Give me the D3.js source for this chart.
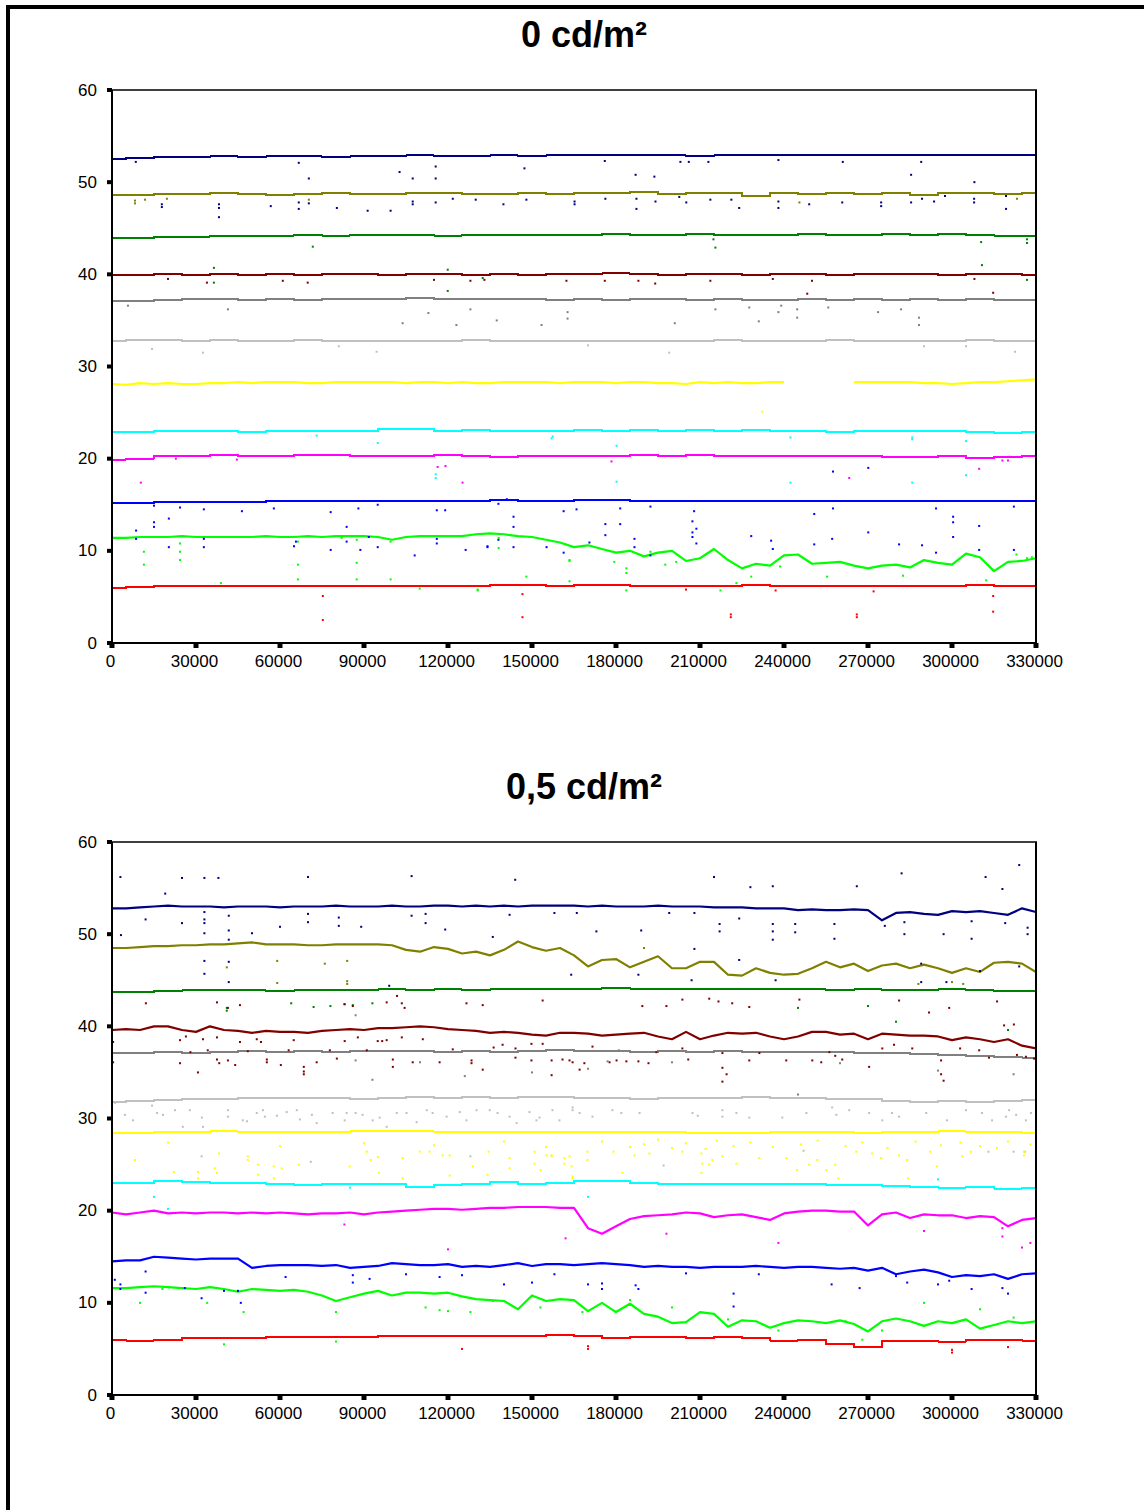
<!DOCTYPE html>
<html><head><meta charset="utf-8">
<script src="https://cdn.jsdelivr.net/npm/d3@7"></script>
<style>body{margin:0;background:#fff}svg{display:block}</style>
</head><body>
<script>
// ---------- categories / ticks ----------
const xTicks = [0,30000,60000,90000,120000,150000,180000,210000,240000,270000,300000,330000];
const yTicks = [0,10,20,30,40,50,60];
const titles = ["0 cd/m²", "0,5 cd/m²"];
const colors = ["#000080","#808000","#008000","#800000","#808080","#C0C0C0","#FFFF00","#00FFFF","#FF00FF","#0000FF","#00FF00","#FF0000"];

// ---------- panel 1 series (0 cd/m²) ----------
const navy1 = [52.5,52.6,52.7,52.7,52.8,52.7,52.8,52.8,52.7,52.8,
52.8,52.9,52.8,52.8,52.9,52.8,52.9,52.9,53.0,52.9,
52.9,52.8,52.9,52.9,52.9,52.9,52.9,53.0,52.9,53.0,
53.0,52.9,53.0,53.0];
const olive1 = [48.6,48.6,48.7,48.7,48.8,48.7,48.6,48.7,48.8,48.7,
48.7,48.8,48.8,48.7,48.7,48.8,48.7,48.8,48.8,48.9,
48.7,48.8,48.8,48.5,48.8,48.7,48.8,48.7,48.8,48.6,
48.8,48.8,48.7,48.8];
const green1 = [43.9,43.9,44.1,44.1,44.2,44.2,44.2,44.3,44.2,44.3,
44.3,44.3,44.2,44.3,44.3,44.3,44.3,44.3,44.4,44.3,
44.3,44.4,44.3,44.3,44.3,44.4,44.3,44.3,44.4,44.3,
44.4,44.3,44.2,44.2];
const maroon1 = [39.9,39.9,40.0,39.9,40.0,39.9,40.0,39.9,40.0,40.0,
39.9,40.0,40.0,39.9,40.0,39.9,40.0,40.0,40.1,40.0,
39.9,40.0,40.0,39.9,40.0,40.0,39.9,40.0,40.0,40.0,
39.9,40.0,40.0,39.9];
const gray1 = [37.1,37.1,37.2,37.3,37.3,37.2,37.3,37.2,37.3,37.3,
37.3,37.4,37.3,37.3,37.3,37.3,37.2,37.3,37.2,37.3,
37.3,37.2,37.3,37.2,37.2,37.3,37.2,37.3,37.2,37.3,
37.2,37.3,37.2,37.2];
const silver1 = [32.8,32.9,32.9,32.8,32.9,32.8,32.8,32.9,32.8,32.8,
32.8,32.8,32.8,32.9,32.8,32.8,32.8,32.8,32.8,32.8,
32.8,32.8,32.9,32.8,32.8,32.8,32.9,32.8,32.8,32.8,
32.8,32.9,32.8,32.8];
const yellow1 = [28.1,28.0,28.2,28.1,28.2,28.1,28.1,28.2,28.2,28.3,
28.2,28.3,28.3,28.3,28.2,28.2,28.3,28.3,28.3,28.3,
28.3,28.2,28.3,28.3,28.2,28.3,28.2,28.2,28.3,28.3,
28.3,28.3,28.2,28.3,28.3,28.3,28.2,28.3,28.3,28.2,
28.2,28.1,28.3,28.2,28.3,28.2,28.2,28.3,28.3,null,
null,null,null,28.3,28.3,28.3,28.3,28.3,28.2,28.2,
28.1,28.2,28.3,28.3,28.4,28.5,28.6];
const cyan1 = [22.9,22.9,23.0,23.0,23.0,22.9,23.0,23.0,23.0,23.0,
23.2,23.2,23.0,23.1,23.0,23.0,23.0,23.1,23.0,23.1,
23.0,23.1,23.0,23.1,23.0,23.0,22.9,23.0,23.0,23.0,
23.0,22.9,22.8,22.9];
const magenta1 = [19.9,20.0,20.3,20.3,20.4,20.3,20.3,20.4,20.4,20.3,
20.3,20.3,20.4,20.3,20.2,20.3,20.3,20.3,20.3,20.4,
20.3,20.4,20.3,20.3,20.3,20.3,20.3,20.3,20.2,20.2,
20.3,20.1,20.2,20.3];
const blue1 = [15.2,15.2,15.3,15.3,15.3,15.3,15.4,15.4,15.4,15.4,
15.4,15.4,15.4,15.4,15.5,15.4,15.4,15.5,15.5,15.4,
15.4,15.4,15.4,15.4,15.4,15.4,15.4,15.4,15.4,15.4,
15.4,15.4,15.4,15.4];
const lime1 = [11.4,11.4,11.5,11.5,11.5,11.6,11.5,11.5,11.5,11.5,
11.5,11.6,11.5,11.5,11.6,11.5,11.6,11.6,11.6,11.5,
11.2,11.5,11.6,11.6,11.6,11.6,11.8,11.9,11.8,11.6,
11.5,11.2,10.9,10.4,10.6,10.2,9.8,10.0,9.4,9.8,
10.0,8.9,9.2,10.2,9.0,8.1,8.6,8.4,9.5,9.6,
8.6,8.7,8.8,8.4,8.1,8.4,8.5,8.2,9.0,8.7,
8.5,9.7,9.3,7.8,8.8,8.9,9.2];
const red1 = [6.0,6.1,6.2,6.2,6.2,6.2,6.2,6.2,6.2,6.2,
6.2,6.2,6.2,6.2,6.3,6.3,6.2,6.3,6.3,6.2,
6.2,6.2,6.2,6.3,6.2,6.2,6.2,6.2,6.2,6.2,
6.2,6.3,6.2,6.2];

// ---------- panel 2 series (0,5 cd/m²) ----------
const navy2 = [52.8,52.8,52.9,53.0,53.1,53.0,53.0,53.0,52.9,53.0,
53.0,53.0,52.9,53.0,53.0,53.0,53.1,53.0,53.0,53.0,
53.1,53.0,53.0,53.1,53.1,53.0,53.1,53.0,53.1,53.0,
53.1,53.1,53.1,53.1,53.0,53.1,53.0,53.0,53.0,53.1,
53.0,53.0,53.0,52.9,52.9,52.9,52.8,52.8,52.8,52.6,
52.7,52.6,52.6,52.7,52.6,51.5,52.3,52.4,52.2,52.1,
52.5,52.4,52.5,52.3,52.1,52.8,52.4];
const olive2 = [48.5,48.5,48.6,48.7,48.7,48.8,48.8,48.9,48.9,49.0,
49.1,48.9,48.9,48.9,48.8,48.8,48.9,48.9,48.9,48.9,
48.8,48.3,48.1,48.6,48.4,47.9,48.1,47.7,48.3,49.2,
48.6,48.2,48.5,47.7,46.5,47.2,47.3,46.4,47.0,47.6,
46.3,46.3,47.0,47.0,45.6,45.5,46.3,45.8,45.6,45.7,
46.3,47.0,46.4,46.8,46.0,46.6,46.8,46.3,46.7,46.3,
45.8,46.3,45.9,46.9,47.0,46.8,45.9];
const green2 = [43.7,43.7,43.8,43.9,43.9,43.9,43.8,43.9,43.9,43.9,
44.0,43.9,44.0,43.9,44.0,44.1,44.1,44.1,44.2,44.1,
44.1,44.0,44.0,44.0,44.0,44.0,43.9,44.0,43.9,43.9,
44.0,43.9,43.8,43.8];
const maroon2 = [39.6,39.7,39.6,40.0,40.0,39.6,39.4,40.0,39.6,39.5,
39.3,39.5,39.4,39.4,39.3,39.5,39.6,39.7,39.6,39.8,
39.8,39.9,40.0,39.9,39.7,39.6,39.5,39.3,39.4,39.3,
39.1,39.0,39.3,39.3,39.2,39.0,39.1,39.2,39.3,38.9,
38.6,39.4,38.6,39.0,39.3,39.2,39.3,38.9,38.6,38.9,
39.4,39.4,39.1,39.2,38.6,39.2,39.1,39.0,39.0,38.9,
38.5,38.8,38.6,38.3,38.6,37.9,37.6];
const gray2 = [37.1,37.1,37.2,37.1,37.2,37.3,37.2,37.3,37.2,37.3,
37.3,37.3,37.2,37.3,37.2,37.3,37.4,37.3,37.3,37.2,
37.3,37.2,37.3,37.2,37.2,37.2,37.2,37.1,37.1,37.0,
36.9,36.8,36.7,36.6];
const silver2 = [31.8,31.9,32.0,32.1,32.1,32.2,32.2,32.2,32.2,32.1,
32.2,32.3,32.2,32.3,32.2,32.3,32.3,32.2,32.2,32.1,
32.2,32.2,32.2,32.3,32.2,32.2,32.1,32.1,31.9,31.8,
31.9,31.8,31.9,32.0];
const yellow2 = [28.4,28.4,28.5,28.5,28.6,28.5,28.5,28.5,28.5,28.6,
28.6,28.6,28.5,28.5,28.5,28.5,28.5,28.5,28.5,28.5,
28.5,28.4,28.4,28.4,28.5,28.5,28.5,28.4,28.5,28.5,
28.6,28.5,28.5,28.4];
const cyan2 = [23.0,23.0,23.2,23.1,23.0,23.0,22.9,22.8,22.9,22.9,
22.9,22.6,22.8,22.9,23.1,22.9,23.0,23.2,23.2,23.0,
22.9,22.9,22.9,22.9,22.9,22.9,22.8,22.8,22.7,22.6,
22.5,22.6,22.4,22.5];
const magenta2 = [19.8,19.6,19.8,20.0,19.7,19.8,19.7,19.8,19.8,19.7,
19.8,19.7,19.8,19.7,19.6,19.7,19.7,19.8,19.6,19.8,
19.9,20.0,20.1,20.2,20.2,20.1,20.2,20.3,20.3,20.4,
20.4,20.4,20.3,20.3,18.1,17.5,18.3,19.1,19.4,19.5,
19.6,19.8,19.7,19.3,19.5,19.6,19.3,19.0,19.7,19.9,
20.0,20.0,19.9,19.9,18.4,19.6,19.8,19.2,19.6,19.5,
19.5,19.2,19.4,19.3,18.3,19.0,19.2];
const blue2 = [14.5,14.6,14.6,15.0,14.9,14.8,14.7,14.8,14.8,14.8,
13.8,14.0,14.1,14.1,14.1,14.0,14.1,13.8,13.9,14.0,
14.3,14.2,14.1,14.1,14.2,13.9,14.0,13.9,14.1,14.3,
14.0,14.2,14.2,14.1,14.2,14.3,14.2,14.1,13.9,14.0,
13.9,13.9,13.8,13.9,13.9,13.9,14.0,13.9,13.8,13.9,
13.9,13.8,13.7,13.8,13.5,13.8,13.1,13.4,13.6,13.3,
12.8,13.0,12.9,13.1,12.6,13.1,13.2];
const lime2 = [11.6,11.6,11.7,11.8,11.7,11.6,11.5,11.7,11.5,11.2,
11.5,11.4,11.3,11.4,11.2,10.8,10.2,10.6,11.0,11.3,
10.8,11.1,11.1,11.0,11.1,10.7,10.4,10.3,10.2,9.3,
10.8,10.2,10.4,10.3,9.1,10.0,9.0,9.9,8.8,8.5,
7.8,7.9,9.0,8.8,7.4,8.1,8.0,7.3,7.8,8.1,
8.0,7.8,8.1,7.7,6.9,8.0,8.3,8.0,7.5,8.0,
7.8,8.2,7.2,7.6,8.0,7.8,8.0];
const red2 = [6.0,5.9,6.0,6.2,6.2,6.2,6.3,6.3,6.3,6.3,
6.4,6.4,6.4,6.4,6.4,6.4,6.5,6.4,6.2,6.3,
6.3,6.2,6.3,6.2,5.9,6.0,5.5,5.2,5.9,5.9,
5.8,6.0,6.0,5.9];

// ---------- isolated outlier points: [series index, x, value] ----------
const outliers1 = [
[0,8500,52.2],[0,66700,52.1],[0,70300,50.4],[0,102700,51.1],[0,107400,50.4],[0,115600,51.7],[0,115600,50.4],[0,147300,51.5],[0,176000,52.3],[0,187000,50.8],[0,193700,50.6],[0,203000,52.2],[0,206000,52.2],[0,213000,52.2],[0,238000,52.4],[0,261000,52.2],[0,285400,50.8],[0,289000,52.2],[0,308000,50.0],
[0,17800,47.6],[0,17800,47.3],[0,38200,47.6],[0,38200,47.2],[0,38200,46.2],[0,56700,47.4],[0,66700,47.8],[0,66700,47.1],[0,70300,47.7],[0,80300,47.2],[0,91300,46.9],[0,99500,46.9],[0,107400,47.9],[0,107400,47.6],[0,115600,47.8],[0,121700,48.2],[0,129900,48.1],[0,139800,47.6],[0,148000,48.1],[0,165200,47.9],[0,165200,47.6],[0,176200,48.2],[0,187300,48.2],[0,187300,47.1],[0,194100,47.9],[0,202600,48.4],[0,205100,47.8],[0,213700,48.1],[0,221200,48.1],[0,224000,47.2],[0,238000,47.9],[0,238000,47.2],[0,249000,47.6],[0,260800,47.8],[0,274700,47.8],[0,274700,47.4],[0,285400,47.8],[0,289300,48.2],[0,293600,47.9],[0,297500,48.5],[0,307900,48.2],[0,307900,47.8],[0,319300,48.5],[0,319300,47.1],
[1,8200,48.0],[1,8200,47.7],[1,11800,48.1],[1,19600,48.2],[1,70300,48.1],[1,245500,47.8],[1,323200,48.2],
[2,71700,43.0],[2,36400,40.7],[2,36400,39.1],[2,119900,40.5],[2,119900,38.2],[2,132400,39.6],[2,215500,42.9],[2,214800,43.8],[2,310700,41.0],[2,310400,43.5],[2,326800,43.4],[2,326800,43.8],[2,326800,39.4],
[3,20000,39.5],[3,33900,39.1],[3,61000,39.3],[3,69900,39.1],[3,115000,39.4],[3,128000,39.3],[3,133000,39.4],[3,162300,39.3],[3,176000,39.3],[3,188000,39.3],[3,194000,39.0],[3,213700,39.3],[3,236000,39.5],[3,250000,39.3],[3,248300,37.9],[3,308000,39.5],[3,314700,38.0],
[4,5700,36.6],[4,41400,36.2],[4,103800,34.7],[4,113000,35.8],[4,128000,36.2],[4,137400,35.0],[4,153400,34.5],[4,162700,35.9],[4,162700,35.2],[4,215500,36.2],[4,227600,36.4],[4,238000,35.9],[4,239000,36.6],[4,244700,36.2],[4,244700,35.3],[4,255800,36.4],[4,273600,35.9],[4,281800,36.2],[4,288200,35.3],[4,288200,34.5],[4,123000,34.5],[4,201000,34.7],[4,231000,34.9],
[5,14300,31.9],[5,32500,31.5],[5,94500,31.6],[5,199000,31.5],[5,322500,31.6],[5,81000,32.2],[5,170000,32.3],[5,290000,32.2],[5,305000,32.2],
[6,232200,25.1],
[7,73100,22.5],[7,94900,21.7],[7,115600,18.3],[7,115600,17.9],[7,157000,22.2],[7,157400,22.4],[7,180200,21.4],[7,180200,17.5],[7,242300,22.3],[7,242300,17.4],[7,285800,22.3],[7,285800,22.1],[7,285800,17.4],[7,305000,21.9],[7,305000,18.2],
[8,10300,17.4],[8,22800,20.0],[8,44600,19.9],[8,116300,19.1],[8,119100,19.2],[8,125200,17.4],[8,178400,19.7],[8,263300,17.9],[8,309700,18.9],[8,318000,19.8],[8,320000,19.8],
[9,15000,14.9],[9,24300,14.7],[9,32800,14.5],[9,46400,14.3],[9,57800,14.6],[9,15000,13.1],[9,15000,12.6],[9,20300,13.5],[9,8600,12.2],[9,8600,11.3],[9,20300,10.4],[9,32800,11.3],[9,32800,10.4],[9,65000,10.5],[9,65700,11.0],[9,78100,14.2],[9,78100,10.1],[9,83800,12.6],[9,83800,11.0],[9,88000,14.6],[9,88700,10.1],[9,91700,11.5],[9,94900,15.0],[9,94900,10.4],[9,108100,9.5],[9,116000,14.4],[9,119000,14.4],[9,116000,11.3],[9,116000,10.8],[9,126300,10.1],[9,134100,10.5],[9,134100,10.4],[9,138000,15.1],[9,138000,11.2],[9,141000,15.6],[9,143400,13.7],[9,143400,12.6],[9,143400,10.4],[9,155200,10.4],[9,161300,9.8],[9,165900,14.5],[9,170500,10.9],[9,161300,14.3],[9,176200,12.9],[9,176200,11.7],[9,181500,14.6],[9,181500,12.9],[9,186600,11.3],[9,186600,10.4],[9,192300,14.8],[9,192300,9.5],[9,207300,13.2],[9,207300,12.0],[9,207300,11.5],[9,208700,12.4],[9,208700,10.8],[9,207900,14.3],[9,228300,11.6],[9,235400,11.1],[9,236000,10.2],[9,250800,14.0],[9,250800,10.7],[9,257200,11.3],[9,257500,18.6],[9,257500,14.6],[9,270100,19.0],[9,270100,12.0],[9,281100,10.7],[9,289300,10.6],[9,294300,14.6],[9,294300,9.8],[9,300400,11.5],[9,300400,13.7],[9,300400,13.1],[9,309700,12.7],[9,309700,10.1],[9,322100,14.8],[9,322100,10.1],
[10,11400,9.9],[10,11400,8.5],[10,24300,10.8],[10,24300,9.9],[10,24300,9.0],[10,66400,11.0],[10,66400,8.5],[10,66400,6.9],[10,38900,6.5],[10,82000,11.4],[10,87400,11.2],[10,87400,8.7],[10,87400,6.9],[10,99500,11.0],[10,99500,6.9],[10,109900,5.9],[10,130600,5.8],[10,130600,5.7],[10,138100,11.4],[10,138100,10.3],[10,148000,7.2],[10,163400,9.0],[10,163400,8.9],[10,163400,6.7],[10,179400,8.8],[10,183700,8.1],[10,183700,7.6],[10,183700,5.7],[10,192300,9.9],[10,197600,8.5],[10,201500,8.8],[10,217300,5.7],[10,223000,6.5],[10,228300,7.2],[10,238600,8.3],[10,255400,7.2],[10,282500,7.3],[10,312200,6.8],[10,323000,9.6],[10,326800,9.2],[10,328500,9.3],
[11,75300,5.1],[11,75300,2.5],[11,221000,2.8],[11,221000,3.1],[11,266000,2.8],[11,266000,3.1],[11,314700,3.4],[11,314700,5.1],[11,146600,2.8],[11,146600,5.3],[11,272000,5.6],[11,205000,5.8],[11,237000,5.7]
];

const outliers2 = [
[0,3000,56.2],[0,25000,56.1],[0,33000,56.1],[0,38000,56.1],[0,70000,56.2],[0,107000,56.3],[0,144000,55.9],[0,215000,56.2],[0,236000,55.2],[0,266000,55.2],[0,282000,56.6],[0,312000,56.2],[0,324000,57.5],[0,19000,54.4],[0,228000,55.1],[0,318000,54.9],
[0,3200,49.9],[0,12000,51.6],[0,25000,51.2],[0,33000,52.4],[0,33000,51.6],[0,33000,51.2],[0,33000,50.1],[0,33000,47.1],[0,33000,45.7],[0,41700,52.0],[0,41700,50.4],[0,41700,49.4],[0,41700,47.0],[0,41700,44.8],[0,50000,50.1],[0,60000,50.8],[0,70000,52.2],[0,70000,51.3],[0,81000,51.8],[0,81000,50.9],[0,89000,50.8],[0,99000,44.4],[0,107000,52.0],[0,112000,52.2],[0,112000,51.2],[0,119000,50.5],[0,136000,49.7],[0,142000,52.1],[0,158000,52.3],[0,166000,52.3],[0,173000,50.3],[0,189000,50.4],[0,199000,52.3],[0,208000,52.3],[0,208000,48.4],[0,217000,51.1],[0,217000,50.3],[0,224000,51.7],[0,224000,47.2],[0,236000,51.1],[0,236000,50.3],[0,236000,49.4],[0,244000,51.1],[0,244000,50.2],[0,258000,51.1],[0,258000,49.5],[0,276000,50.9],[0,283000,51.3],[0,283000,50.0],[0,297000,50.0],[0,307000,51.4],[0,307000,49.5],[0,319000,51.2],[0,327000,50.7],[0,327000,50.0],[0,164000,45.6],[0,188000,45.6],[0,207000,45.0],[0,237000,45.0],[0,289000,46.8],[0,289000,44.8],[0,298000,44.8],[0,310000,46.0],[0,324000,46.5],
[1,41000,46.4],[1,59000,47.1],[1,59000,44.7],[1,76000,46.8],[1,84000,47.1],[1,84000,44.9],[1,84000,44.6],[1,190000,48.5],[1,288000,44.6],[1,300000,44.8],[1,304000,44.6],
[2,41000,42.0],[2,41000,41.7],[2,64000,42.5],[2,72000,42.1],[2,78000,42.2],[2,83000,42.4],[2,86000,42.3],[2,93000,42.5],[2,270000,42.2],[2,245000,42.0],[2,280000,40.5],[2,320000,39.6],
[3,400,38.3],[3,400,36.1],[3,12100,42.5],[3,24300,38.5],[3,24300,36.0],[3,26400,38.9],[3,28000,37.2],[3,30700,35.0],[3,32500,38.6],[3,34200,37.4],[3,37500,42.6],[3,37500,38.8],[3,37500,36.4],[3,38300,36.0],[3,41400,42.0],[3,41400,36.3],[3,44000,35.8],[3,45700,42.3],[3,45700,38.3],[3,48500,37.3],[3,51700,38.6],[3,53200,38.3],[3,55300,36.4],[3,55300,36.1],[3,60300,35.8],[3,63100,37.4],[3,64900,38.5],[3,68500,35.6],[3,68500,35.1],[3,68500,34.8],[3,73100,36.1],[3,77800,37.4],[3,80300,36.5],[3,83100,42.4],[3,83100,38.4],[3,86000,42.2],[3,87800,38.8],[3,91000,37.4],[3,94900,38.4],[3,96500,38.4],[3,98100,38.5],[3,98100,42.6],[3,100300,36.4],[3,100300,35.6],[3,101800,43.3],[3,103500,42.5],[3,103500,38.8],[3,104500,42.0],[3,107400,36.1],[3,111000,38.6],[3,117000,36.1],[3,121700,37.5],[3,126600,42.5],[3,128400,36.3],[3,128400,36.0],[3,132400,35.3],[3,132400,42.3],[3,136300,37.7],[3,139500,38.0],[3,144100,36.6],[3,144100,37.6],[3,149800,38.1],[3,149800,36.3],[3,153800,38.1],[3,153800,42.8],[3,157000,36.3],[3,157000,34.7],[3,160900,36.4],[3,164500,36.1],[3,168700,36.0],[3,171600,37.8],[3,163400,36.3],[3,167000,35.3],[3,177700,36.1],[3,180200,36.3],[3,183700,36.2],[3,188000,36.2],[3,189400,42.2],[3,191600,36.0],[3,194400,37.2],[3,198000,42.2],[3,203700,42.9],[3,203700,37.6],[3,205800,36.4],[3,213300,43.0],[3,216600,42.7],[3,218000,37.1],[3,218000,35.5],[3,218000,34.0],[3,219500,34.8],[3,221500,42.5],[3,227600,42.1],[3,227600,36.3],[3,231200,37.1],[3,240800,36.3],[3,245500,42.9],[3,250100,36.3],[3,253300,36.1],[3,256200,37.2],[3,258300,36.8],[3,260800,36.4],[3,270400,35.6],[3,275100,37.6],[3,279300,38.0],[3,281100,42.8],[3,285800,37.6],[3,291800,41.5],[3,296100,36.3],[3,296100,34.8],[3,297000,34.1],[3,299000,42.0],[3,302900,37.6],[3,309700,37.4],[3,313200,36.6],[3,316100,42.7],[3,318600,40.1],[3,322100,40.2],[3,323200,36.9],[3,326400,36.7],[3,329300,36.5],
[4,93000,34.2],[4,87000,36.3],[4,87000,41.2],[4,110000,36.1],[4,126000,34.6],[4,150000,35.0],[4,170000,35.4],[4,177000,36.2],[4,181000,37.4],[4,245000,32.6],[4,322000,34.8],[4,295000,35.2],[4,260000,36.0],[4,200000,36.1],
[5,1100,31.7],[5,4600,30.4],[5,7500,29.8],[5,14300,31.4],[5,16100,30.6],[5,18200,30.4],[5,22500,30.9],[5,25300,29.1],[5,27800,30.9],[5,32100,30.1],[5,32500,29.1],[5,41400,30.9],[5,41400,30.2],[5,46700,29.8],[5,48200,29.7],[5,51700,30.6],[5,53900,30.9],[5,54600,30.2],[5,58900,30.3],[5,62400,30.7],[5,66000,30.9],[5,67100,29.9],[5,71400,30.4],[5,73100,29.5],[5,78800,30.6],[5,83100,29.8],[5,83800,30.6],[5,87000,30.6],[5,89500,30.4],[5,93100,29.8],[5,95600,30.1],[5,98100,29.1],[5,101700,30.6],[5,105200,30.6],[5,108800,29.6],[5,112400,30.9],[5,114500,30.6],[5,119500,30.2],[5,124200,30.7],[5,126600,29.8],[5,130200,30.9],[5,134900,30.9],[5,137700,30.6],[5,142000,30.2],[5,144500,29.5],[5,149100,30.7],[5,151600,29.8],[5,152700,30.1],[5,157300,30.9],[5,159800,29.8],[5,164500,30.9],[5,167000,30.6],[5,171600,30.2],[5,164500,31.2],[5,178700,30.9],[5,181900,30.6],[5,188400,30.6],[5,207300,30.6],[5,209200,30.3],[5,218000,30.9],[5,218000,30.2],[5,223000,30.6],[5,227600,30.1],[5,239400,30.1],[5,248000,30.6],[5,257200,31.2],[5,258700,30.4],[5,263300,30.9],[5,270400,30.6],[5,275100,29.8],[5,278600,30.6],[5,281100,30.2],[5,290800,30.6],[5,298200,29.8],[5,305000,30.9],[5,310700,30.6],[5,314300,29.8],[5,319300,30.2],[5,320400,30.9],[5,322900,30.4],[5,326400,29.8],[5,328200,30.6],
[5,32000,25.9],[5,71000,25.3],[5,128000,25.9],[5,197000,24.9],[5,247000,26.5],[5,313000,26.4],[5,322000,26.4],[5,326000,26.4],
[6,8200,25.5],[6,22100,24.2],[6,30700,24.2],[6,30700,23.5],[6,36700,24.6],[6,38200,26.2],[6,37500,24.1],[6,48500,25.9],[6,48500,25.5],[6,52100,25.0],[6,52100,23.9],[6,57800,24.8],[6,57800,23.5],[6,60600,24.6],[6,66700,25.0],[6,84900,24.8],[6,91000,26.4],[6,92400,25.5],[6,95300,24.1],[6,94900,25.8],[6,103800,25.7],[6,103800,23.5],[6,109900,26.4],[6,113400,26.4],[6,118100,26.0],[6,120600,26.0],[6,120600,23.8],[6,128800,24.8],[6,134100,23.9],[6,134500,26.4],[6,142000,25.7],[6,142000,24.6],[6,150900,26.4],[6,150900,25.1],[6,153100,24.4],[6,155200,26.0],[6,157000,26.0],[6,161600,25.7],[6,161600,25.1],[6,163400,25.9],[6,164500,23.7],[6,169800,25.5],[6,157000,25.9],[6,164100,24.8],[6,164500,23.5],[6,169800,26.4],[6,179100,26.4],[6,182300,24.1],[6,186600,26.0],[6,191900,26.2],[6,203700,26.4],[6,210500,26.2],[6,210500,24.1],[6,210800,25.1],[6,213300,25.0],[6,214400,25.5],[6,218000,25.9],[6,223000,25.1],[6,231200,25.7],[6,240800,25.7],[6,244700,24.4],[6,249000,25.0],[6,251900,25.5],[6,255100,24.4],[6,258300,25.0],[6,259400,23.5],[6,265800,26.4],[6,271500,26.2],[6,274700,25.7],[6,281100,26.0],[6,284000,25.5],[6,284300,23.5],[6,292200,26.4],[6,294700,24.8],[6,303600,25.9],[6,306800,26.4],[6,325700,26.4],[6,325700,26.0],
[6,175000,27.5],[6,185000,26.9],[6,190000,27.2],[6,195000,27.7],[6,200000,26.8],[6,205000,27.3],[6,212000,26.7],[6,216000,27.6],[6,222000,27.0],[6,228000,27.4],[6,236000,26.9],[6,246000,27.2],[6,252000,27.6],[6,262000,27.0],[6,268000,27.4],[6,277000,26.8],[6,287000,27.5],[6,296000,27.1],[6,303000,27.4],[6,310000,27.0],[6,316000,26.8],[6,320000,27.5],[6,328000,27.2],[6,20000,27.4],[6,60000,27.0],[6,90000,27.3],[6,115000,27.1],[6,140000,27.5],[6,155000,26.9],
[7,15000,21.5],[7,20000,20.2],[7,85000,22.5],[7,170000,21.5],[7,295000,23.4],[7,330000,22.0],
[8,83000,18.5],[8,120000,15.8],[8,162000,17.0],[8,198000,17.5],[8,238000,16.5],[8,290000,17.8],[8,318000,17.2],[8,325000,16.0],[8,328000,16.5],[8,330000,14.5],[8,318000,18.1],
[9,1000,12.5],[9,3000,12.0],[9,3000,11.5],[9,12000,13.4],[9,12000,11.1],[9,26000,11.6],[9,32000,10.5],[9,40000,11.3],[9,46000,10.0],[9,86000,13.0],[9,86000,12.2],[9,92000,12.6],[9,117000,12.8],[9,125000,13.0],[9,158000,13.1],[9,170000,12.0],[9,175000,12.1],[9,175000,11.5],[9,187000,11.9],[9,188000,11.5],[9,205000,13.2],[9,222000,11.0],[9,222000,9.6],[9,231000,13.1],[9,257000,12.0],[9,267000,11.6],[9,280000,12.9],[9,284000,12.2],[9,295000,12.0],[9,299000,12.4],[9,307000,11.5],[9,318000,11.6],[9,320000,11.0],[9,150000,12.2],[9,140000,12.0],[9,105000,13.1],[9,62000,12.8],[9,45000,11.3],
[10,0,9.5],[10,10000,10.0],[10,18000,11.5],[10,34000,10.0],[10,47000,9.0],[10,80000,9.0],[10,112000,9.5],[10,117000,9.2],[10,128000,9.0],[10,120000,9.1],[10,136000,10.2],[10,153000,9.5],[10,168000,9.0],[10,185000,10.3],[10,200000,9.5],[10,220000,8.2],[10,238000,7.0],[10,262000,8.0],[10,275000,7.0],[10,290000,10.0],[10,310000,9.3],[10,322000,8.4],[10,330000,7.0],[10,80000,5.8],[10,40000,5.5],[10,268000,6.0],
[11,125000,5.0],[11,170000,5.0],[11,170000,5.3],[11,300000,4.6],[11,300000,4.9],[11,320000,5.2]
];

const panel1Series = [navy1, olive1, green1, maroon1, gray1, silver1, yellow1, cyan1, magenta1, blue1, lime1, red1];
const panel2Series = [navy2, olive2, green2, maroon2, gray2, silver2, yellow2, cyan2, magenta2, blue2, lime2, red2];
const xMax = 330000;

// ---------- drawing ----------
const W = 1144, H = 1510;
const FONT = "'Liberation Sans', Arial, Helvetica, sans-serif";
const svg = d3.select("body").append("svg").attr("width", W).attr("height", H);
svg.append("rect").attr("width", W).attr("height", H).attr("fill", "#fff");
svg.append("rect").attr("x", 6).attr("y", 5).attr("width", 4).attr("height", H).attr("fill", "#000");
svg.append("rect").attr("x", 6).attr("y", 5).attr("width", W).attr("height", 4).attr("fill", "#000");

function drawPanel(idx, series, outliers, top, bottom, titleY) {
  const left = 112, right = 1036;
  const x = d3.scaleLinear().domain([0, xMax]).range([left, right]);
  const y = d3.scaleLinear().domain([0, 60]).range([bottom, top]);
  const g = svg.append("g");

  g.append("text").attr("x", 584).attr("y", titleY)
    .attr("text-anchor", "middle").attr("font-family", FONT)
    .attr("font-weight", "bold").attr("font-size", 36).attr("fill", "#000")
    .text(titles[idx]);

  const clipId = "clip" + idx;
  g.append("clipPath").attr("id", clipId).append("rect")
    .attr("x", left).attr("y", top).attr("width", right - left).attr("height", bottom - top);

  const plot = g.append("g").attr("clip-path", `url(#${clipId})`);

  series.forEach((vals, i) => {
    const step = xMax / (vals.length - 1);
    const fine = vals.length > 40;
    const line = d3.line()
      .defined(d => d != null)
      .x((d, j) => x(j * step))
      .y(d => y(d))
      .curve(fine ? d3.curveLinear : d3.curveStep);
    plot.append("path").datum(vals)
      .attr("fill", "none").attr("stroke", colors[i])
      .attr("stroke-width", fine ? 2.2 : 2)
      .attr("stroke-linejoin", "round")
      .attr("shape-rendering", fine ? "auto" : "crispEdges")
      .attr("d", line);
  });

  plot.selectAll("rect.dot").data(outliers).join("rect")
    .attr("class", "dot")
    .attr("x", d => x(d[1]) - 1).attr("y", d => y(d[2]) - 1)
    .attr("width", 2).attr("height", 2)
    .attr("fill", d => colors[d[0]]);

  g.append("line").attr("x1", left).attr("x2", right + 1).attr("y1", top).attr("y2", top)
    .attr("stroke", "#000").attr("stroke-width", 1.5);
  g.append("line").attr("x1", right).attr("x2", right).attr("y1", top).attr("y2", bottom)
    .attr("stroke", "#000").attr("stroke-width", 2);

  const yAxis = d3.axisLeft(y).tickValues(yTicks).tickSize(0).tickPadding(15);
  const ya = g.append("g").attr("transform", `translate(${left},0)`).call(yAxis);
  ya.select(".domain").remove();
  ya.selectAll("text").attr("font-family", FONT).attr("font-size", 17).attr("fill", "#000").attr("dy", "0.3em");

  const xAxis = d3.axisBottom(x).tickValues(xTicks).tickSize(0).tickPadding(12).tickFormat(d3.format("d"));
  const xa = g.append("g").attr("transform", `translate(0,${bottom})`).call(xAxis);
  xa.select(".domain").remove();
  xa.selectAll("text").attr("font-family", FONT).attr("font-size", 17).attr("fill", "#000").attr("dx", -2);

  g.append("line").attr("x1", left).attr("x2", left).attr("y1", top).attr("y2", bottom + 1)
    .attr("stroke", "#000").attr("stroke-width", 2);
  g.append("line").attr("x1", left - 1).attr("x2", right + 1).attr("y1", bottom).attr("y2", bottom)
    .attr("stroke", "#000").attr("stroke-width", 2);

  g.selectAll("rect.yt").data(yTicks).join("rect").attr("class", "yt")
    .attr("x", left - 5).attr("y", d => y(d) - 2).attr("width", 5).attr("height", 4).attr("fill", "#000");
  g.selectAll("rect.xt").data(xTicks).join("rect").attr("class", "xt")
    .attr("x", d => x(d) - 2.5).attr("y", bottom).attr("width", 5).attr("height", 5).attr("fill", "#000");
}

drawPanel(0, panel1Series, outliers1, 90, 643, 47);
drawPanel(1, panel2Series, outliers2, 842, 1395, 799);
</script>
</body></html>
